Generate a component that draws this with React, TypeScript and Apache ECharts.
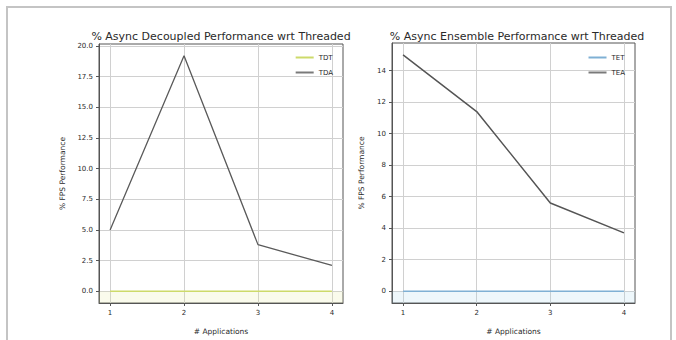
import React, { useEffect, useRef } from "react";
import * as echarts from "echarts";

const apps = [1, 2, 3, 4];
const decoupledThreaded = [0, 0, 0, 0];
const decoupledAsync = [5.0, 19.2, 3.8, 2.1];
const ensembleThreaded = [0, 0, 0, 0];
const ensembleAsync = [15.0, 11.4, 5.6, 3.7];
const leftTicks = [0, 2.5, 5, 7.5, 10, 12.5, 15, 17.5, 20];
const rightTicks = [0, 2, 4, 6, 8, 10, 12, 14];
const titles = [
  "% Async Decoupled Performance wrt Threaded",
  "% Async Ensemble Performance wrt Threaded",
];

const FONT = "DejaVu Sans";
const TXT = "#2a2a2a";

function xAxis(idx: number) {
  return {
    type: "value",
    gridIndex: idx,
    min: 0.85,
    max: 4.15,
    name: "# Applications",
    nameLocation: "middle",
    nameGap: 24,
    nameTextStyle: { fontFamily: FONT, fontSize: 7.5, color: TXT },
    axisLine: { show: true, onZero: false, lineStyle: { color: "#555", width: 1 } },
    axisTick: { show: true, length: 3, customValues: apps, lineStyle: { color: "#555" } },
    axisLabel: {
      customValues: apps,
      fontFamily: FONT,
      fontSize: 7,
      color: TXT,
      margin: 6,
      formatter: (v: number) => String(v),
    },
    splitLine: { show: true, customValues: apps, lineStyle: { color: "#d0d0d0", width: 1 } },
  };
}

function yAxis(idx: number, min: number, max: number, ticks: number[], dec: number, gap: number) {
  return {
    type: "value",
    gridIndex: idx,
    min,
    max,
    name: "% FPS Performance",
    nameLocation: "middle",
    nameGap: gap,
    nameTextStyle: { fontFamily: FONT, fontSize: 7.5, color: TXT },
    axisLine: { show: true, lineStyle: { color: "#555", width: 1 } },
    axisTick: { show: true, length: 3, customValues: ticks, lineStyle: { color: "#555" } },
    axisLabel: {
      customValues: ticks,
      fontFamily: FONT,
      fontSize: 7,
      color: TXT,
      margin: 6,
      formatter: (v: number) => v.toFixed(dec),
    },
    splitLine: { show: true, customValues: ticks, lineStyle: { color: "#d0d0d0", width: 1 } },
  };
}

function pairs(vals: number[]) {
  return apps.map((a, i) => [a, vals[i]]);
}

export default function App() {
  const ref = useRef<HTMLDivElement>(null);
  useEffect(() => {
    if (!ref.current) return;
    const chart = echarts.init(ref.current, null, { renderer: "svg" });
    const leftMin = -0.96;
    const leftMax = 20.16;
    const rightMin = -0.75;
    const rightMax = 15.75;
    chart.setOption({
      animation: false,
      backgroundColor: "#ffffff",
      textStyle: { fontFamily: FONT },
      title: [
        {
          text: titles[0],
          left: 216,
          top: 26,
          textAlign: "center",
          textStyle: { fontFamily: FONT, fontSize: 11, fontWeight: "normal", color: TXT },
        },
        {
          text: titles[1],
          left: 512,
          top: 26,
          textAlign: "center",
          textStyle: { fontFamily: FONT, fontSize: 11, fontWeight: "normal", color: TXT },
        },
      ],
      grid: [
        { left: 99, top: 44, width: 244, height: 265, show: true, borderColor: "#555", borderWidth: 1, backgroundColor: "transparent" },
        { left: 392, top: 43, width: 243, height: 266, show: true, borderColor: "#555", borderWidth: 1, backgroundColor: "transparent" },
      ],
      xAxis: [xAxis(0), xAxis(1)],
      yAxis: [
        yAxis(0, leftMin, leftMax, leftTicks, 1, 33),
        yAxis(1, rightMin, rightMax, rightTicks, 0, 27),
      ],
      legend: [
        {
          data: ["TDT", "TDA"],
          orient: "vertical",
          right: 676 - 338,
          top: 49,
          itemWidth: 18,
          itemHeight: 2,
          itemGap: 8,
          icon: "rect",
          textStyle: { fontFamily: FONT, fontSize: 7, color: TXT },
        },
        {
          data: ["TET", "TEA"],
          orient: "vertical",
          right: 676 - 630,
          top: 49,
          itemWidth: 18,
          itemHeight: 2,
          itemGap: 8,
          icon: "rect",
          textStyle: { fontFamily: FONT, fontSize: 7, color: TXT },
        },
      ],
      graphic: [
        {
          type: "rect",
          shape: { x: 7, y: 7, width: 664, height: 345 },
          style: { fill: "none", stroke: "#c4c4c4", lineWidth: 2 },
          silent: true,
        },
      ],
      series: [
        {
          name: "TDT",
          type: "line",
          xAxisIndex: 0,
          yAxisIndex: 0,
          data: pairs(decoupledThreaded),
          symbol: "none",
          color: "#cdda6a",
          lineStyle: { width: 1.6, color: "#cdda6a" },
          markArea: {
            silent: true,
            itemStyle: { color: "rgba(225,235,150,0.18)" },
            data: [[{ yAxis: leftMin }, { yAxis: 0 }]],
          },
          z: 3,
        },
        {
          name: "TDA",
          type: "line",
          xAxisIndex: 0,
          yAxisIndex: 0,
          data: pairs(decoupledAsync),
          symbol: "none",
          color: "#7a7a7a",
          lineStyle: { width: 1.3, color: "#5a5a5a" },
          z: 4,
        },
        {
          name: "TET",
          type: "line",
          xAxisIndex: 1,
          yAxisIndex: 1,
          data: pairs(ensembleThreaded),
          symbol: "none",
          color: "#7fb0d4",
          lineStyle: { width: 1.6, color: "#7fb0d4" },
          markArea: {
            silent: true,
            itemStyle: { color: "rgba(160,210,235,0.18)" },
            data: [[{ yAxis: rightMin }, { yAxis: 0 }]],
          },
          z: 3,
        },
        {
          name: "TEA",
          type: "line",
          xAxisIndex: 1,
          yAxisIndex: 1,
          data: pairs(ensembleAsync),
          symbol: "none",
          color: "#7a7a7a",
          lineStyle: { width: 1.5, color: "#555555" },
          z: 4,
        },
      ],
    });
    return () => chart.dispose();
  }, []);
  return (
    <div
      ref={ref}
      style={{ position: "absolute", left: 0, top: 0, width: 676, height: 340 }}
    />
  );
}
